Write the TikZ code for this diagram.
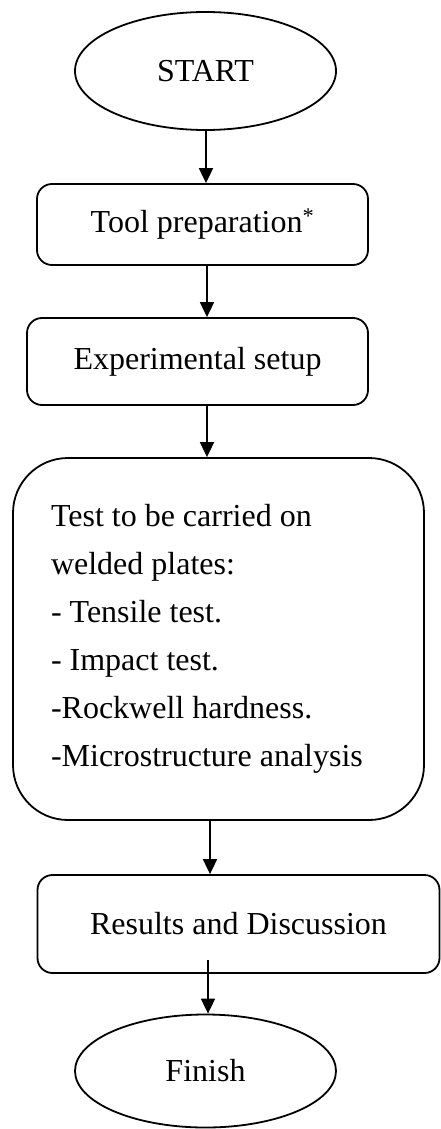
\documentclass[tikz,border=0pt]{standalone}
\usepackage{fontspec}
\setmainfont{Liberation Serif}
\usetikzlibrary{shapes.geometric,arrows.meta}
\begin{document}
\begin{tikzpicture}[x=1pt,y=-1pt,
  base/.style={draw,line width=1.8pt,font=\fontsize{32}{48}\selectfont,inner sep=0pt},
  oval/.style={base,ellipse},
  rbox/.style={base,rectangle,rounded corners=15pt},
  arr/.style={line width=1.8pt,-{Triangle[length=15pt,width=14pt]}}]
\useasboundingbox (0,0) rectangle (441,1129);
\node[oval,minimum width=261pt,minimum height=118pt] (start) at (205.5,71) {START};
\node[rbox,minimum width=331pt,minimum height=81pt] (tool) at (202.5,224.5) {Tool preparation\textsuperscript{*}};
\node[rbox,minimum width=341pt,minimum height=87pt] (exp) at (197.5,361.5) {Experimental setup};
\node[base,rectangle,rounded corners=55pt,minimum width=411pt,minimum height=362pt,
      text width=335pt,inner xsep=38pt,align=flush left] (test) at (218.5,639)
  {Test to be carried on\\welded plates:\\- Tensile test.\\- Impact test.\\-Rockwell hardness.\\-Microstructure analysis};
\node[rbox,minimum width=402pt,minimum height=98pt] (res) at (238.5,924) {Results and Discussion};
\node[oval,minimum width=261pt,minimum height=113pt] (finish) at (205.5,1071) {Finish};
\coordinate (a1) at (206,0);
\coordinate (a2) at (207,0);
\coordinate (a4) at (210,0);
\coordinate (a5) at (208,960);
\draw[arr] (start.south -| a1) -- (tool.north -| a1);
\draw[arr] (tool.south -| a2) -- (exp.north -| a2);
\draw[arr] (exp.south -| a2) -- (test.north -| a2);
\draw[arr] (test.south -| a4) -- (res.north -| a4);
\draw[arr] (a5) -- (finish.north -| a5);
\end{tikzpicture}
\end{document}
